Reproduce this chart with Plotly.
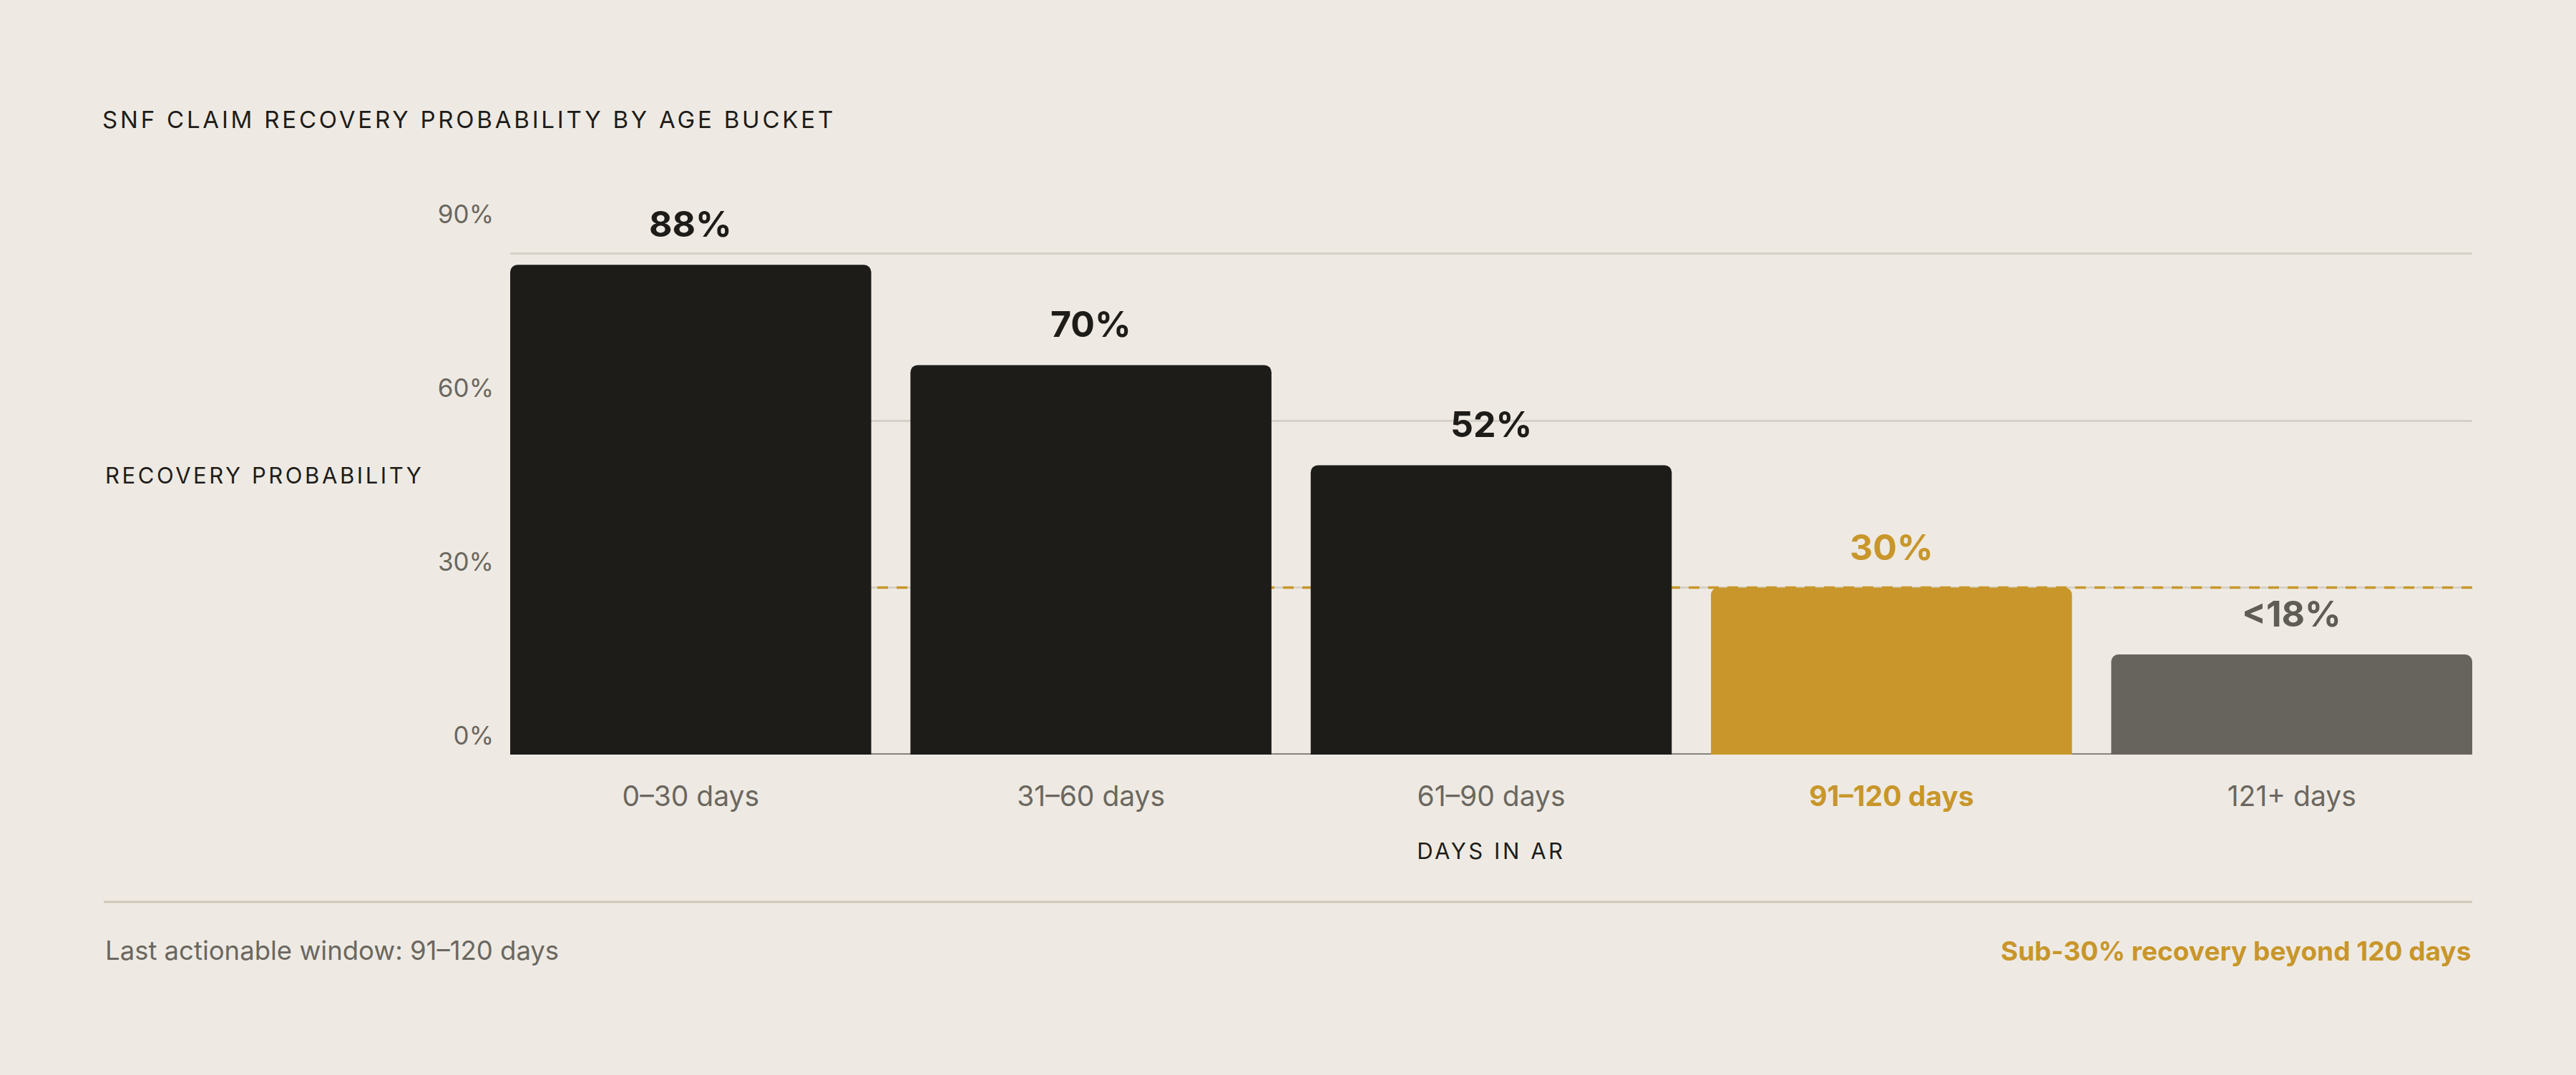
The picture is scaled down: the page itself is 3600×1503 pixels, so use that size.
import plotly.graph_objects as go

# ---- data ----
categories = ["0–30 days", "31–60 days", "61–90 days", "91–120 days", "121+ days"]
recovery = [88, 70, 52, 30, 18]
value_labels = ["88%", "70%", "52%", "30%", "<18%"]
y_ticks = [0, 30, 60, 90]
threshold = 30

title_text = "SNF CLAIM RECOVERY PROBABILITY BY AGE BUCKET"
y_title = "RECOVERY PROBABILITY"
x_title = "DAYS IN AR"
footer_left = "Last actionable window: 91–120 days"
footer_right = "Sub-30% recovery beyond 120 days"
highlight = "91–120 days"
faded = "121+ days"

# ---- style ----
BG = "#EEEAE3"
DARK = "#1E1C19"
GOLD = "#C8962A"
GRAY_BAR = "#67635D"
GRAY_TXT = "#6B6760"
GRID = "#D6D1C8"
RULE = "#CEC7B6"
FONT = "Inter"

def bar_color(c):
    if c == highlight:
        return GOLD
    if c == faded:
        return GRAY_BAR
    return DARK

def label_color(c):
    if c == highlight:
        return GOLD
    if c == faded:
        return "#5F5B55"
    return DARK

idx = list(range(len(categories)))
bargap = 0.098
x_range = [-0.5 + bargap/2, len(categories) - 0.5 - bargap/2]

fig = go.Figure()
fig.add_trace(go.Bar(
    x=idx, y=recovery,
    marker=dict(color=[bar_color(c) for c in categories], line=dict(width=0)),
    hoverinfo="skip", showlegend=False,
))
# invisible trace carrying the tick-label axis
fig.add_trace(go.Scatter(x=idx, y=recovery, yaxis="y2", mode="none",
                         hoverinfo="skip", showlegend=False))

ticktext = []
for c in categories:
    if c == highlight:
        ticktext.append(f'<span style="color:{GOLD}"><b>{c}</b></span>')
    else:
        ticktext.append(c)

fig.update_layout(
    width=3600, height=1503,
    paper_bgcolor=BG, plot_bgcolor="rgba(0,0,0,0)",
    margin=dict(l=713, r=145, t=277, b=448, pad=0),
    bargap=bargap,
    barcornerradius=10,
    font=dict(family=FONT, color=GRAY_TXT),
    title=dict(text=title_text, xref="container", x=143/3600, xanchor="left",
               yref="container", y=1-167/1503, yanchor="middle",
               font=dict(family=FONT, size=33, color=DARK)),
    xaxis=dict(
        range=x_range,
        tickvals=idx, ticktext=ticktext,
        showgrid=False, zeroline=False, showline=False, ticks="",
        tickfont=dict(family=FONT, size=39, color=GRAY_TXT),
        ticklabelstandoff=32, fixedrange=True,
    ),
    yaxis=dict(
        range=[0, 100], tickvals=y_ticks, showticklabels=False,
        showgrid=True, gridcolor=GRID, gridwidth=3, zeroline=False,
        showline=False, ticks="", fixedrange=True,
    ),
    yaxis2=dict(
        overlaying="y", side="left", range=[-3.21, 92.84],
        tickvals=y_ticks, ticktext=[f"{v}%" for v in y_ticks],
        showgrid=False, zeroline=False,
        showline=False, ticks="", ticklabelstandoff=22,
        tickfont=dict(family=FONT, size=35, color=GRAY_TXT), fixedrange=True,
    ),
)

# reference lines (behind the bars, above the grid)
fig.add_shape(type="line", xref="x", yref="y", x0=x_range[0], x1=x_range[1], y0=0, y1=0,
              line=dict(color="#77736D", width=3.5), layer="between")
fig.add_shape(type="line", xref="x", yref="y", x0=x_range[0], x1=x_range[1],
              y0=threshold, y1=threshold,
              line=dict(color=GOLD, width=3.5, dash="15px,12px"), layer="between")
# divider rule
fig.add_shape(type="line", xref="paper", yref="paper",
              x0=(145-713)/2742, x1=1, y0=(1055-1261)/778, y1=(1055-1261)/778,
              line=dict(color=RULE, width=3))

# value labels
for i, c in enumerate(categories):
    fig.add_annotation(x=i, y=recovery[i], text=f"<b>{value_labels[i]}</b>",
                       showarrow=False, yanchor="bottom", yshift=25,
                       font=dict(family=FONT, size=50, color=label_color(c)))

# axis titles and footer
fig.add_annotation(xref="paper", yref="paper", x=(145-713)/2742, y=(1055-664)/778,
                   xanchor="left", yanchor="middle", text=y_title, showarrow=False,
                   font=dict(family=FONT, size=31, color=DARK))
fig.add_annotation(xref="paper", yref="paper", x=0.5, y=(1055-1189)/778,
                   xanchor="center", yanchor="middle", text=x_title, showarrow=False,
                   font=dict(family=FONT, size=31, color=DARK))
fig.add_annotation(xref="paper", yref="paper", x=(145-713)/2742, y=(1055-1329)/778,
                   xanchor="left", yanchor="middle", text=footer_left, showarrow=False,
                   font=dict(family=FONT, size=36.5, color=GRAY_TXT))
fig.add_annotation(xref="paper", yref="paper", x=1, y=(1055-1329)/778,
                   xanchor="right", yanchor="middle", text=f"<b>{footer_right}</b>",
                   showarrow=False, font=dict(family=FONT, size=37, color=GOLD))

post = """
document.body.style.margin='0';
var spaced=['%s','%s','%s'];
document.querySelectorAll('text').forEach(function(t){
  if(spaced.indexOf(t.textContent)>=0){
    var w0=t.getComputedTextLength();
    t.setAttribute('letter-spacing','0.115em');
    var w1=t.getComputedTextLength();
    var anchor=t.getAttribute('text-anchor')||'start';
    if(anchor==='middle' && t.textContent==='%s'){
      var x=parseFloat(t.getAttribute('x')||'0');
      t.setAttribute('x', x+(w1-w0)/2);
    }
  }
});
""" % (title_text, y_title, x_title, y_title)

fig.write_html("out.html", post_script=post, config={"displayModeBar": False})
